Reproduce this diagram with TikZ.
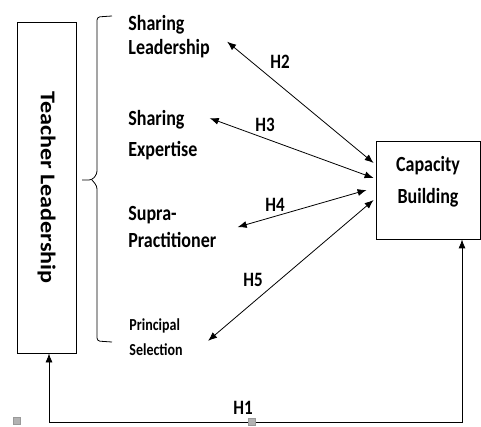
\documentclass[tikz,border=0pt]{standalone}
\usepackage{fontspec}
\setmainfont{Carlito}
\usetikzlibrary{arrows.meta}
\newcommand{\tall}[1]{\scalebox{1}[1.2]{#1}}

\begin{document}
\begin{tikzpicture}[x=1pt,y=-1pt,line width=0.8pt,
		both/.style={{Latex[length=9pt,width=7pt]}-{Latex[length=9pt,width=7pt]}},
		box/.style={draw,rectangle,inner sep=0pt},
		lbl/.style={font=\fontsize{18}{24}\selectfont\bfseries,align=left,inner sep=0pt,anchor=north west},
		hyp/.style={font=\fontsize{17}{20}\selectfont\bfseries,inner sep=0pt},
		handle/.style={draw=gray!80,fill=gray!60,line width=0.4pt,minimum size=7pt,inner sep=0pt}]
		\useasboundingbox (0,0) rectangle (481,427);

		\node[box,minimum width=59pt,minimum height=331pt] (teach) at (46.5,187.5) {};
		\node[rotate=-90,font=\fontsize{21}{24}\selectfont\bfseries] (teachtext) at (teach.center) {\scalebox{1.15}[1]{Teacher Leadership}};

		\node[box,minimum width=104pt,minimum height=98pt] (cap) at (428,190) {};
		\node[lbl,anchor=north,align=center] (captext) at (428,156) {\tall{Capacity}\\[8pt]\tall{Building}};

		\node[lbl] (shlead) at (128,15) {\tall{Sharing}\\\tall{Leadership}};
		\node[lbl] (shexp) at (128,110) {\tall{Sharing}\\[7pt]\tall{Expertise}};
		\node[lbl] (supra) at (128,206) {\tall{Supra-}\\[3pt]\tall{Practitioner}};
		\node[lbl,font=\fontsize{14}{25}\selectfont\bfseries] (princ) at (129,318) {\tall{Principal}\\\tall{Selection}};

		\draw[rounded corners=3pt] (112,16) -- (97,17) -- (97,174) -- (92,180) -- (82,180);
		\draw[rounded corners=3pt] (92,180) -- (97,186) -- (97,341) -- (112,342);

		\draw[both] ([xshift=17pt,yshift=-5pt]shlead.east) -- ([xshift=-2pt,yshift=27pt]cap.west);
		\draw[both] ([xshift=12pt,yshift=17pt]shexp.east) -- ([xshift=-2pt,yshift=12pt]cap.west);
		\draw[both] ([xshift=21pt]supra.east) -- ([xshift=-9pt]cap.west);
		\draw[both] ([xshift=25pt,yshift=-4pt]princ.east) -- ([xshift=-2pt,yshift=-10pt]cap.west);

		\node[hyp] (h2) at (280,62) {\tall{H2}};
		\node[hyp] (h3) at (265,125) {\tall{H3}};
		\node[hyp] (h4) at (275,205) {\tall{H4}};
		\node[hyp] (h5) at (253,280) {\tall{H5}};

		\coordinate (h1end) at (462,422);
		\draw[both] ([xshift=2.5pt]teach.south) |- (h1end) -- ([xshift=34pt]cap.south);
		\node[hyp] (h1) at (243,408) {\tall{H1}};

		\node[handle] (hl) at (17,421) {};
		\node[handle] (hm) at (252,422) {};
	\end{tikzpicture}
\end{document}
